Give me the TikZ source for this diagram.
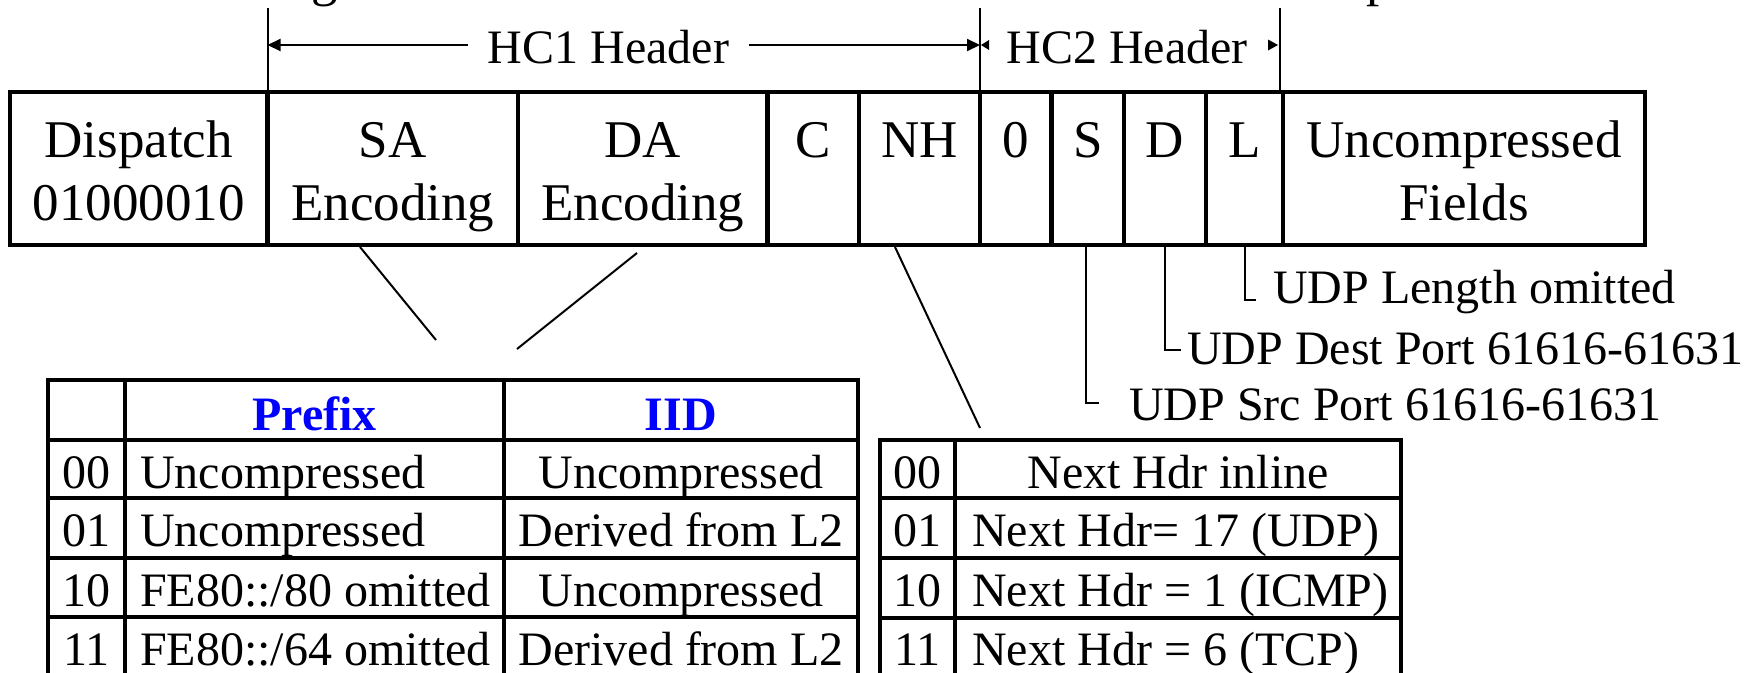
\documentclass[tikz,border=0pt]{standalone}
\usepackage{fontspec}
\setmainfont{Liberation Serif}
\usetikzlibrary{arrows.meta}
\newcommand{\boxcell}[6]{%
  \pgfmathsetmacro\bcX{(#3+#5)/2}\pgfmathsetmacro\bcY{(#4+#6)/2}%
  \pgfmathsetmacro\bcW{#5-#3}\pgfmathsetmacro\bcH{#6-#4}%
  \node[#1, minimum width=\bcW pt, minimum height=\bcH pt] (#2) at (\bcX,\bcY) {};}
\begin{document}
\begin{tikzpicture}[x=1pt,y=-1pt,
  big/.style={font=\fontsize{53}{60}\selectfont},
  mid/.style={font=\fontsize{48}{56}\selectfont},
  hdr/.style={font=\fontsize{48}{56}\selectfont\bfseries, text=blue},
  fieldbox/.style={draw, line width=4.5pt, inner sep=0pt, outer sep=0pt},
  cellbox/.style={draw, line width=3.8pt, inner sep=0pt, outer sep=0pt},
  lbl/.style={anchor=base, inner sep=0pt},
  lblw/.style={anchor=base west, inner sep=0pt},
  thinline/.style={line width=2pt},
  arr/.style={line width=2pt, -{Triangle[length=13pt,width=12pt]}},
]
\useasboundingbox (0,0) rectangle (1753,672);

% clipped fragments of the title above
\node[lblw,big] (tg) at (311,-4.5) {g};
\node[lblw,big] (tp) at (1366,-4.5) {p};

% main header row
\boxcell{fieldbox}{disp}{10}{92}{267.5}{245}
\boxcell{fieldbox}{sa}{267.5}{92}{518}{245}
\boxcell{fieldbox}{da}{518}{92}{767.5}{245}
\boxcell{fieldbox}{cf}{767.5}{92}{859}{245}
\boxcell{fieldbox}{nh}{859}{92}{980}{245}
\boxcell{fieldbox}{zf}{980}{92}{1051.6}{245}
\boxcell{fieldbox}{sf}{1051.6}{92}{1124}{245}
\boxcell{fieldbox}{df}{1124}{92}{1206}{245}
\boxcell{fieldbox}{lf}{1206}{92}{1283}{245}
\boxcell{fieldbox}{uf}{1283}{92}{1645}{245}

\node[lbl,big] (dispA) at (138.75,157) {Dispatch};
\node[lbl,big] (dispB) at (138.75,220) {01000010};
\node[lbl,big] (saA) at (392.75,157) {SA};
\node[lbl,big] (saB) at (392.75,220) {Encoding};
\node[lbl,big] (daA) at (642.75,157) {DA};
\node[lbl,big] (daB) at (642.75,220) {Encoding};
\node[lbl,big] (cA) at (813.25,157) {C};
\node[lbl,big] (nhA) at (919.5,157) {NH};
\node[lbl,big] (zA) at (1015.8,157) {0};
\node[lbl,big] (sA) at (1087.8,157) {S};
\node[lbl,big] (dA) at (1165,157) {D};
\node[lbl,big] (lA) at (1244.5,157) {L};
\node[lbl,big] (uA) at (1464,157) {Uncompressed};
\node[lbl,big] (uB) at (1464,220) {Fields};

% HC1 / HC2 header brackets
\draw[thinline] (sa.north west) -- ++(0,-84);
\draw[thinline] (zf.north west) -- ++(0,-84);
\draw[thinline] ([xshift=-3pt]lf.north east) -- ++(0,-84);
\node[lbl,mid] (hc1) at (608.5,63) {HC1 Header};
\node[lbl,mid] (hc2) at (1127,63) {HC2 Header};
\coordinate (h1l) at (468,45);
\coordinate (h1r) at (749,45);
\draw[arr] (h1l) -- (sa.north west |- h1l);
\draw[arr] (h1r) -- (zf.north west |- h1r);
\fill (981,45) -- (989,40) -- (989,50) -- cycle;
\fill (1278,45) -- (1268,39.5) -- (1268,50.5) -- cycle;

% connectors to the tables
\coordinate (saT) at (436,340);
\coordinate (daT) at (517,349);
\coordinate (nhT) at (980,428);
\draw[thinline] ([xshift=-32.75pt,yshift=-2pt]sa.south) -- (saT);
\draw[thinline] ([xshift=-5.75pt,yshift=-8pt]da.south) -- (daT);
\draw[thinline] ([xshift=-24.5pt,yshift=-2pt]nh.south) -- (nhT);

% S, D, L annotations
\coordinate (sH) at (1099,403);
\coordinate (dH) at (1181,350);
\coordinate (lH) at (1256,300);
\draw[thinline] ([xshift=-1.8pt]sf.south) |- (sH);
\draw[thinline] (df.south) |- (dH);
\draw[thinline] (lf.south) |- (lH);
\node[lblw,mid] (sT) at (1129,420) {UDP Src Port 61616-61631};
\node[lblw,mid] (dT) at (1187,364) {UDP Dest Port 61616-61631};
\node[lblw,mid] (lT) at (1273,303) {UDP Length omitted};

% table 1: SA / DA encoding
\boxcell{cellbox}{t1h0}{48}{380}{125}{440}
\boxcell{cellbox}{t1h1}{125}{380}{504}{440}
\boxcell{cellbox}{t1h2}{504}{380}{858}{440}
\foreach \i/\ya/\yb in {1/440/498, 2/498/558, 3/558/617, 4/617/676} {
  \boxcell{cellbox}{t1r\i c0}{48}{\ya}{125}{\yb}
  \boxcell{cellbox}{t1r\i c1}{125}{\ya}{504}{\yb}
  \boxcell{cellbox}{t1r\i c2}{504}{\ya}{858}{\yb}
}
\node[lbl,hdr] (pfx) at (314.5,430) {Prefix};
\node[lbl,hdr] (iid) at (681,430) {IID};
\node[lbl,mid] (a1) at (86.5,488.5) {00};
\node[lblw,mid] (a2) at (140,488.5) {Uncompressed};
\node[lbl,mid] (a3) at (681,488.5) {Uncompressed};
\node[lbl,mid] (b1) at (86.5,546.5) {01};
\node[lblw,mid] (b2) at (140,546.5) {Uncompressed};
\node[lbl,mid] (b3) at (681,546.5) {Derived from L2};
\node[lbl,mid] (c1) at (86.5,606.5) {10};
\node[lblw,mid] (c2) at (140,606.5) {FE80::/80 omitted};
\node[lbl,mid] (c3) at (681,606.5) {Uncompressed};
\node[lbl,mid] (d1) at (86.5,665.5) {11};
\node[lblw,mid] (d2) at (140,665.5) {FE80::/64 omitted};
\node[lbl,mid] (d3) at (681,665.5) {Derived from L2};

% table 2: next header
\foreach \i/\ya/\yb in {1/440/498, 2/498/558, 3/558/618, 4/618/676} {
  \boxcell{cellbox}{t2r\i c0}{880}{\ya}{955}{\yb}
  \boxcell{cellbox}{t2r\i c1}{955}{\ya}{1401}{\yb}
}
\node[lbl,mid] (e1) at (917.5,488.5) {00};
\node[lbl,mid] (e2) at (1178,488.5) {Next Hdr inline};
\node[lbl,mid] (f1) at (917.5,546.5) {01};
\node[lblw,mid] (f2) at (972,546.5) {Next Hdr= 17 (UDP)};
\node[lbl,mid] (g1) at (917.5,606.5) {10};
\node[lblw,mid] (g2) at (972,606.5) {Next Hdr = 1 (ICMP)};
\node[lbl,mid] (h1) at (917.5,665.5) {11};
\node[lblw,mid] (h2) at (972,665.5) {Next Hdr = 6 (TCP)};
\end{tikzpicture}
\end{document}
